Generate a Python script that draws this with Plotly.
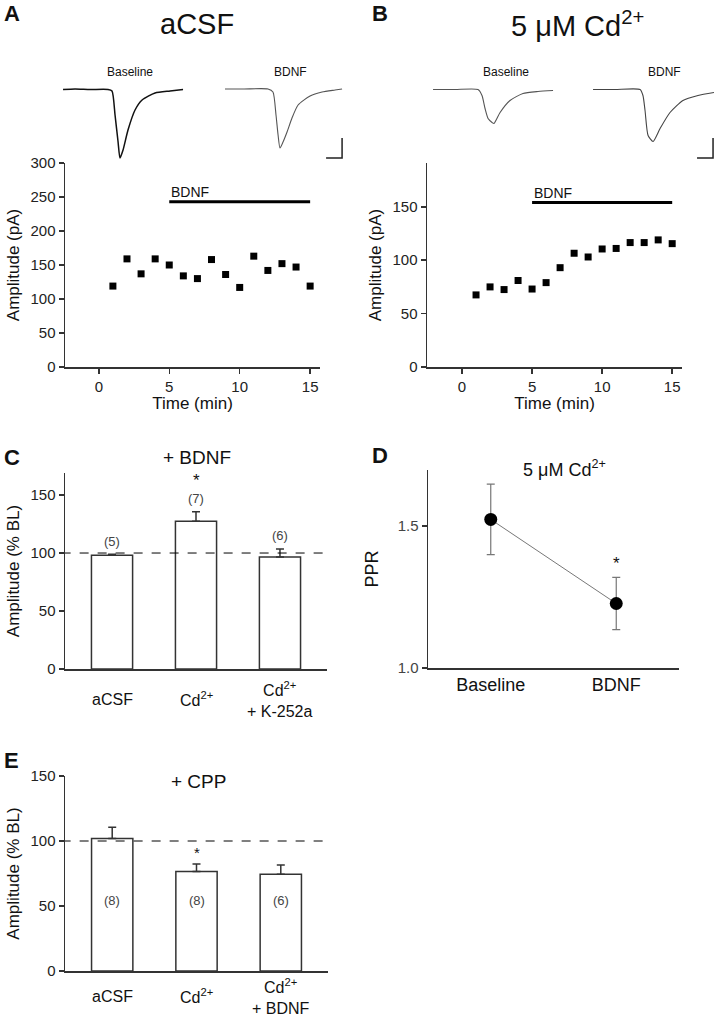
import plotly.graph_objects as go

W, H = 714, 1019
FONT = "Liberation Sans, Arial, sans-serif"
AX = "#333333"

# ---------------- data ----------------
time_min = list(range(1, 16))
amp_acsf = [119, 159, 137, 159, 150, 134, 130, 158, 136, 117, 163, 142, 152, 147, 119]
amp_cd = [67.5, 75, 72.5, 81, 73, 79, 93, 106.5, 103, 110.5, 111, 116.5, 116.5, 119, 115.5]
bdnf_start, bdnf_end = 5, 15
bdnf_bar_level_a = 243
bdnf_bar_level_b = 154

# example traces (time in ms, current in pA)
trA_base_t = [1.9, 9.4, 18.8, 30, 32.5, 34.4, 36.3, 37.5, 39.4, 42.5, 46.9, 51.3, 59.4, 68.8, 76.9]
trA_base_v = [0, 1, 0, 0, -3, -51, -105, -137, -121, -81, -41, -21, -7, -3, 0]
trA_bdnf_t = [3.1, 15, 30, 33.1, 35, 36.3, 37.5, 39.4, 41.9, 45, 48.8, 56.3, 63.8, 71.9, 76.3]
trA_bdnf_v = [1, 1, 1, -5, -51, -91, -117, -105, -85, -57, -31, -13, -5, -1, 1]
trB_base_t = [1.9, 15.6, 30, 32.5, 34.4, 36.3, 38.8, 40, 43.8, 50, 58.1, 67.5, 76.9]
trB_base_v = [0, 0, 0, -12, -38, -58, -66, -68, -46, -22, -8, -4, -2]
trB_bdnf_t = [1.9, 15.6, 31.3, 33.1, 34.4, 36.3, 39.4, 43.8, 50, 58.1, 67.5, 77.5]
trB_bdnf_v = [0, 0, 0, -12, -42, -92, -104, -78, -46, -22, -12, -6]
scale_ms, scale_pA = 10, 40

# panel C
c_cats = ["aCSF", "Cd2+", "Cd2+ + K-252a"]
c_vals = [98, 127.5, 96.5]
c_err = [1, 8, 7]
c_n = ["(5)", "(7)", "(6)"]
c_sig = [False, True, False]

# panel D
d_cats = ["Baseline", "BDNF"]
d_vals = [1.523, 1.227]
d_err = [0.124, 0.092]
d_sig = [False, True]

# panel E
e_cats = ["aCSF", "Cd2+", "Cd2+ + BDNF"]
e_vals = [102, 76.5, 74.5]
e_err = [8.5, 5.8, 7]
e_n = ["(8)", "(8)", "(6)"]
e_sig = [False, True, False]


def px(x):
    return x / W


def py(y):
    return 1 - y / H


fig = go.Figure()

# ---------- scatter panels A / B ----------
for xa, ya, vals, lvl in [("x", "y", amp_acsf, bdnf_bar_level_a), ("x2", "y2", amp_cd, bdnf_bar_level_b)]:
    fig.add_trace(go.Scatter(x=time_min, y=vals, mode="markers", xaxis=xa, yaxis=ya,
                             marker=dict(symbol="square", size=7, color="black"),
                             showlegend=False))
    fig.add_trace(go.Scatter(x=[bdnf_start, bdnf_end], y=[lvl, lvl], mode="lines", xaxis=xa, yaxis=ya,
                             line=dict(color="black", width=3), showlegend=False))

# ---------- bar panels C / E ----------
for xa, ya, vals, err in [("x3", "y3", c_vals, c_err), ("x5", "y5", e_vals, e_err)]:
    xs = list(range(len(vals)))
    fig.add_trace(go.Bar(x=xs, y=vals, xaxis=xa, yaxis=ya, width=0.49,
                         marker=dict(color="white", line=dict(color=AX, width=1.5)),
                         error_y=dict(type="data", array=err, arrayminus=[0] * len(err),
                                      color=AX, thickness=1.5, width=4),
                         showlegend=False))
    fig.add_trace(go.Scatter(x=[-0.6, 2.6], y=[100, 100], mode="lines", xaxis=xa, yaxis=ya,
                             line=dict(color="black", width=1, dash="dash"), showlegend=False))

# ---------- panel D ----------
fig.add_trace(go.Scatter(x=[0, 1], y=d_vals, mode="lines+markers", xaxis="x4", yaxis="y4",
                         line=dict(color="#777777", width=1),
                         marker=dict(size=13, color="black"),
                         error_y=dict(type="data", array=d_err, color="#777777", thickness=1.2, width=4),
                         showlegend=False))

# ---------- example traces ----------
traces = [("x6", "y6", trA_base_t, trA_base_v, "#111111", 1.5),
          ("x7", "y7", trA_bdnf_t, trA_bdnf_v, "#555555", 1.1),
          ("x8", "y8", trB_base_t, trB_base_v, "#555555", 1.1),
          ("x9", "y9", trB_bdnf_t, trB_bdnf_v, "#444444", 1.1)]
for xa, ya, t, v, col, w in traces:
    fig.add_trace(go.Scatter(x=t, y=v, mode="lines", xaxis=xa, yaxis=ya,
                             line=dict(color=col, width=w, shape="spline", smoothing=0.6),
                             showlegend=False))
# scale bars (on BDNF trace axes)
for xa, ya, tend in [("x7", "y7", 76.3), ("x9", "y9", 76.9)]:
    fig.add_trace(go.Scatter(x=[tend - scale_ms, tend, tend], y=[-137, -137, -137 + scale_pA],
                             mode="lines", xaxis=xa, yaxis=ya,
                             line=dict(color="#222222", width=1.5), showlegend=False))

tickfont = dict(family=FONT, size=15, color="#222222")
titlefont = dict(family=FONT, size=17, color="#111111")


def data_axis(dom, rng, **kw):
    d = dict(domain=dom, range=rng, showline=True, linecolor=AX, linewidth=1.5,
             ticks="outside", ticklen=5, tickcolor=AX, tickwidth=1.5, automargin=False,
             showgrid=False, zeroline=False, tickfont=tickfont, fixedrange=True)
    d.update(kw)
    return d


def hidden_axis(dom, rng, anchor):
    return dict(domain=dom, range=rng, visible=False, showgrid=False, zeroline=False,
                anchor=anchor, fixedrange=True, automargin=False)


layout = dict(
    width=W, height=H, margin=dict(l=0, r=0, t=0, b=0, pad=0, autoexpand=False),
    paper_bgcolor="white", plot_bgcolor="rgba(0,0,0,0)",
    font=dict(family=FONT, color="#111111"),
    bargap=0,
    # A
    xaxis=data_axis([px(65), px(320)], [-2.4, 15.7], anchor="y", tickvals=[0, 5, 10, 15],
                    title=dict(text="Time (min)", font=titlefont, standoff=2)),
    yaxis=data_axis([py(367), py(163)], [0, 300], anchor="x", tickvals=[0, 50, 100, 150, 200, 250, 300],
                    title=dict(text="Amplitude (pA)", font=titlefont, standoff=6)),
    # B
    xaxis2=data_axis([px(427), px(682)], [-2.5, 15.7], anchor="y2", tickvals=[0, 5, 10, 15],
                     title=dict(text="Time (min)", font=titlefont, standoff=2)),
    yaxis2=data_axis([py(367), py(163)], [0, 191], anchor="x2", tickvals=[0, 50, 100, 150],
                     title=dict(text="Amplitude (pA)", font=titlefont, standoff=6)),
    # C
    xaxis3=data_axis([px(65), px(327)], [-0.56, 2.56], anchor="y3", ticks="", showticklabels=False),
    yaxis3=data_axis([py(669), py(473)], [0, 169], anchor="x3", tickvals=[0, 50, 100, 150],
                     title=dict(text="Amplitude (% BL)", font=titlefont, standoff=6)),
    # D
    xaxis4=data_axis([px(428), px(679)], [-0.5, 1.5], anchor="y4", ticks="",
                     tickvals=[0, 1], ticktext=d_cats,
                     tickfont=dict(family=FONT, size=18, color="#111111")),
    yaxis4=data_axis([py(668), py(470)], [1.0, 1.697], anchor="x4", tickvals=[1.0, 1.5],
                     tickformat=".1f", tickfont=dict(family=FONT, size=15, color="#444444"),
                     title=dict(text="PPR", font=dict(family=FONT, size=18, color="#111111"), standoff=14)),
    # E
    xaxis5=data_axis([px(65), px(328)], [-0.56, 2.56], anchor="y5", ticks="", showticklabels=False),
    yaxis5=data_axis([py(971), py(776)], [0, 150], anchor="x5", tickvals=[0, 50, 100, 150],
                     title=dict(text="Amplitude (% BL)", font=titlefont, standoff=6)),
    # traces
    xaxis6=hidden_axis([px(60), px(190)], [0, 81.25], "y6"),
    yaxis6=hidden_axis([py(165), py(80)], [-151, 19], "x6"),
    xaxis7=hidden_axis([px(220), px(350)], [0, 81.25], "y7"),
    yaxis7=hidden_axis([py(165), py(80)], [-151, 19], "x7"),
    xaxis8=hidden_axis([px(430), px(560)], [0, 81.25], "y8"),
    yaxis8=hidden_axis([py(165), py(80)], [-151, 19], "x8"),
    xaxis9=hidden_axis([px(590), 1.0], [0, 77.5], "y9"),
    yaxis9=hidden_axis([py(165), py(80)], [-151, 19], "x9"),
)
fig.update_layout(**layout)

ann = []


def txt(text, x, y, size, xref="paper", yref="paper", xanchor="center", yanchor="middle",
        color="#111111", bold=False):
    if bold:
        text = "<b>" + text + "</b>"
    ann.append(dict(text=text, x=x, y=y, xref=xref, yref=yref, xanchor=xanchor, yanchor=yanchor,
                    showarrow=False, font=dict(family=FONT, size=size, color=color)))


# panel letters
txt("A", px(2), py(13), 22, xanchor="left", bold=True)
txt("B", px(370), py(13), 22, xanchor="left", bold=True)
txt("C", px(2), py(457), 22, xanchor="left", bold=True)
txt("D", px(370), py(455), 22, xanchor="left", bold=True)
txt("E", px(2), py(760), 22, xanchor="left", bold=True)

# titles
txt("aCSF", px(197), py(24), 29)
txt("5 μM Cd<sup>2+</sup>", px(577), py(24), 29)
txt("Baseline", px(130), py(72), 12)
txt("BDNF", px(290), py(72), 12)
txt("Baseline", px(506), py(72), 12)
txt("BDNF", px(664), py(72), 12)
txt("+ BDNF", px(197), py(458), 19)
txt("5 μM Cd<sup>2+</sup>", px(564), py(468), 18)
txt("+ CPP", px(198), py(781), 19)

# BDNF bar labels
txt("BDNF", bdnf_start, bdnf_bar_level_a, 14, xref="x", yref="y", xanchor="left", yanchor="bottom")
txt("BDNF", bdnf_start, bdnf_bar_level_b, 14, xref="x2", yref="y2", xanchor="left", yanchor="bottom")

# panel C annotations
for i, (v, e, n, s) in enumerate(zip(c_vals, c_err, c_n, c_sig)):
    txt(n, i, v + e + 3, 13, xref="x3", yref="y3", yanchor="bottom", color="#444444")
    if s:
        txt("*", i, v + e + 17, 17, xref="x3", yref="y3", yanchor="bottom")

# panel C category labels
c_labels = ["aCSF", "Cd<sup>2+</sup>", "Cd<sup>2+</sup><br>+ K-252a"]
for i, lab in enumerate(c_labels):
    txt(lab, i, py(699), 16, xref="x3", color="#111111")

# panel D significance
for i, (v, e, s) in enumerate(zip(d_vals, d_err, d_sig)):
    if s:
        txt("*", i, v + e + 0.01, 17, xref="x4", yref="y4", yanchor="bottom")

# panel E annotations
for i, (v, e, n, s) in enumerate(zip(e_vals, e_err, e_n, e_sig)):
    txt(n, i, 54, 13, xref="x5", yref="y5", color="#444444")
    if s:
        txt("*", i, v + e + 1, 15, xref="x5", yref="y5", yanchor="bottom")

e_labels = ["aCSF", "Cd<sup>2+</sup>", "Cd<sup>2+</sup><br>+ BDNF"]
for i, lab in enumerate(e_labels):
    txt(lab, i, py(996), 16, xref="x5", color="#111111")

fig.update_layout(annotations=ann)
fig.write_html("out.html", config={"displayModeBar": False, "staticPlot": True},
               post_script="document.body.style.margin='0';document.body.style.overflow='hidden';")
